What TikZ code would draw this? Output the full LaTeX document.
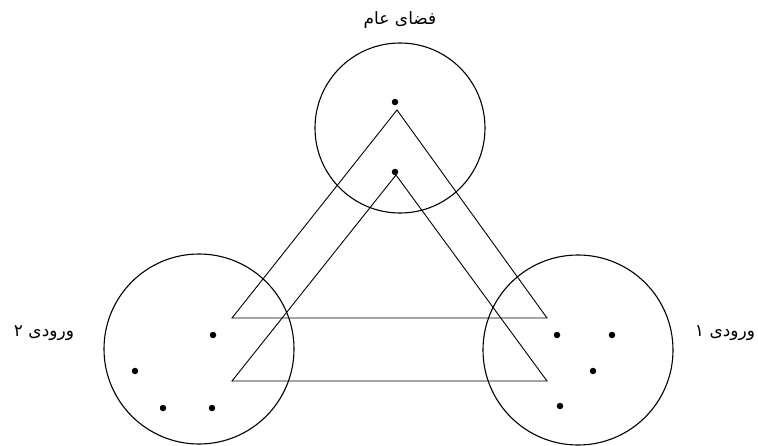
\documentclass[tikz,border=0pt]{standalone}
\usepackage{fontspec}
\newfontfamily\arabicfont[Script=Arabic]{DejaVu Sans}
\TeXXeTstate=1
\usetikzlibrary{positioning}

\begin{document}
\begin{tikzpicture}[x=1pt, y=-1pt,
    zone/.style={circle, draw, line width=1.1pt, inner sep=0pt},
    pt/.style={circle, fill, inner sep=0pt, minimum size=6.5pt},
    tri/.style={draw, line width=0.9pt, line join=miter},
    lbl/.style={font=\arabicfont\fontsize{17}{20}\selectfont}
]
\useasboundingbox (0,0) rectangle (758,445);

% Spaces
\node (pub) [zone, minimum size=170pt] at (400,128) {};
\node (in2) [zone, minimum size=190pt] at (199,349) {};
\node (in1) [zone, minimum size=190pt] at (578,350) {};

% Labels
\node (publ) [lbl] at (400,20) {\beginR فضای عام\endR};
\node (in2l) [lbl] at (44,333) {\beginR ورودی ۲\endR};
\node (in1l) [lbl] at (725,333) {\beginR ورودی ۱\endR};

% Triangles
\coordinate (a1) at (397,110);
\coordinate (l1) at (232,318);
\coordinate (r1) at (547,318);
\coordinate (a2) at (396,175);
\coordinate (l2) at (232,381);
\coordinate (r2) at (547,381);
\draw[tri] (a1) -- (r1) -- (l1) -- cycle;
\draw[tri] (a2) -- (r2) -- (l2) -- cycle;

% Points
\node (p1) [pt] at (395,102) {};
\node (p2) [pt] at (395,172) {};
\node (q1) [pt] at (213,335) {};
\node (q2) [pt] at (135,371) {};
\node (q3) [pt] at (163,408) {};
\node (q4) [pt] at (212,408) {};
\node (s1) [pt] at (557,335) {};
\node (s2) [pt] at (612,335) {};
\node (s3) [pt] at (593,371) {};
\node (s4) [pt] at (560,406) {};

\end{tikzpicture}
\end{document}
